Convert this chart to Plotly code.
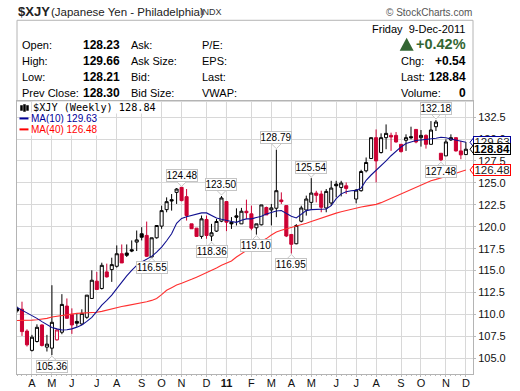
from datetime import date, timedelta
import plotly.graph_objects as go

first_week = date(2010, 3, 15)
weeks = [(first_week + timedelta(days=7 * i)).isoformat() for i in range(91)]

opens = [110.7,110.6,108.1,105.9,106.91,108.8,106.27,106.15,107.1,107.97,110.95,110.0,109.2,108.91,109.67,111.82,113.79,112.96,114.85,115.11,115.49,116.92,117.0,117.38,118.25,119.2,119.01,116.55,118.74,120.07,121.95,123.09,123.92,124.49,123.43,120.33,119.84,118.9,120.83,118.94,119.5,120.64,122.87,120.52,121.24,120.33,121.77,121.47,119.88,120.22,122.19,121.92,122.11,123.05,122.41,119.12,118.06,120.63,121.91,122.78,123.84,123.73,122.14,122.71,124.86,124.48,124.67,None,123.16,124.11,126.38,127.78,130.16,128.46,130.16,130.42,130.42,129.4,129.86,130.27,131.1,130.16,130.42,129.4,131.41,128.38,128.08,129.9,130.16,128.65,128.23]
highs = [110.9,111.45,108.3,107.67,108.87,108.87,107.67,113.33,108.3,112.31,111.82,110.69,110.12,110.58,112.2,115.03,114.85,115.9,115.79,116.47,117.87,117.98,117.98,118.44,119.57,119.95,120.59,118.74,120.14,122.4,123.35,123.73,124.41,124.48,124.3,120.33,119.84,121.28,121.28,120.33,120.9,123.5,122.87,121.1,122.1,122.15,123.09,122.41,120.33,122.49,122.3,122.6,128.79,123.92,122.41,119.12,120.3,122.4,123.55,125.54,124.1,124.11,124.3,125.24,125.24,125.24,125.05,None,124.3,126.5,127.9,130.16,131.1,130.65,131.67,130.73,130.8,129.4,130.54,131.41,131.1,131.03,130.54,132.05,132.18,128.38,129.97,130.54,130.16,129.78,129.66]
lows = [110.2,107.55,106.34,105.77,106.8,106.34,105.77,105.36,107.02,107.74,109.5,107.78,108.6,108.8,109.5,111.82,112.84,112.84,114.2,113.71,115.34,115.87,116.55,117.1,117.23,118.44,116.55,116.55,118.64,119.76,121.65,121.84,122.6,122.9,120.7,119.77,118.9,118.63,118.63,118.36,119.4,120.52,119.5,119.75,120.14,120.33,120.9,119.6,119.1,120.15,121.35,120.15,121.09,122.6,118.82,116.95,118.0,120.5,121.27,122.03,122.78,121.65,121.65,122.4,123.35,123.46,123.73,None,122.67,124.0,126.2,127.78,125.06,128.35,128.84,128.65,129.59,128.46,128.65,129.97,129.52,129.14,128.91,129.4,130.92,127.48,128.08,129.78,128.57,127.7,128.21]
closes = [110.4,108.04,106.53,107.4,108.53,106.46,106.61,109.1,108.23,111.14,109.56,108.8,109.0,110.12,112.2,113.9,112.84,115.6,114.28,115.68,116.92,115.87,116.74,117.23,118.5,118.8,116.63,118.74,120.14,121.84,122.86,122.94,124.3,122.98,121.28,119.77,118.9,120.9,119.0,119.31,120.6,123.28,120.52,120.33,121.09,121.77,121.6,119.84,120.33,122.49,121.35,122.15,124.11,122.87,118.94,118.0,120.14,122.14,123.16,123.84,123.58,122.22,124.03,124.41,124.67,124.98,124.37,None,124.18,126.3,127.33,130.16,127.51,130.16,130.65,130.24,129.67,128.57,130.16,130.16,129.67,130.42,129.4,131.03,131.94,127.63,129.67,130.16,128.65,128.2,128.84]
red_weeks = [1,2,5,8,10,11,16,18,21,26,33,34,35,36,38,42,46,47,50,53,54,55,60,61,66,72,75,76,77,80,82,85,88,89]

ma10 = [110.8,110.5,110.2,109.93,109.55,109.18,108.85,108.5,108.35,108.23,108.25,108.35,108.55,108.8,109.2,109.67,110.35,111.07,111.6,112.2,112.95,113.71,114.4,115.03,115.6,115.98,116.3,116.62,117.1,117.68,118.4,119.2,120.4,120.95,121.15,121.3,121.5,121.58,121.58,121.3,121.0,120.85,120.7,120.6,120.5,120.75,120.9,120.9,121.05,121.2,121.45,121.6,121.8,121.85,121.55,121.2,121.0,121.4,121.84,121.95,122.0,122.03,122.03,122.4,123.2,123.75,124.0,124.1,124.15,124.4,125.3,125.9,126.4,126.95,127.5,128.1,128.65,129.1,129.5,129.7,129.83,129.9,129.95,130.02,130.1,130.2,130.15,130.0,129.85,129.72,129.63]
ma40 = [109.3,109.3,109.33,109.35,109.4,109.44,109.55,109.7,109.8,109.88,109.95,110.05,110.12,110.15,110.18,110.2,110.24,110.35,110.5,110.65,110.8,110.9,111.0,111.1,111.18,111.3,111.45,111.6,111.82,112.25,112.75,113.05,113.35,113.55,113.75,114.0,114.25,114.5,114.8,115.05,115.3,115.6,115.85,116.1,116.55,116.95,117.3,117.65,118.0,118.3,118.65,119.05,119.4,119.6,119.75,119.9,120.05,120.25,120.4,120.6,120.8,121.0,121.2,121.4,121.55,121.7,121.85,122.0,122.15,122.25,122.35,122.45,122.55,122.75,123.0,123.3,123.55,123.8,124.05,124.3,124.55,124.75,125.0,125.25,125.4,125.55,125.7,125.9,126.1,126.3,126.48]

month_weeks = [3,7,11,16,20,25,29,33,38,42,47,51,55,59,64,68,72,77,81,86,90]
month_labels = ["A","M","J","J","A","S","O","N","D","<b>11</b>","F","M","A","M","J","J","A","S","O","N","D"]
price_ticks = [105 + 2.5 * i for i in range(12)]

# (week, price, text, pixel offset of the box centre above the point)
peaks = [(7,105.36,"105.36",-11),(27,116.55,"116.55",-11),(33,124.48,"124.48",12),
         (39,118.36,"118.36",-10),(41,123.50,"123.50",12),(48,119.10,"119.10",-11),
         (52,128.79,"128.79",12),(55,116.95,"116.95",-11),(59,125.54,"125.54",11),
         (84,132.18,"132.18",11),(85,127.48,"127.48",-10)]
# (price, text, colour, bold)
price_tags = [(129.63,"129.63","#000099",False),(126.48,"126.48","#FF0000",False),(128.84,"128.84","#000000",True)]

ARIAL = "Liberation Sans"
GRID = "#D8D8D8"
FRAME = "#B4B4B4"
RED = "#CC0033"
GREEN = "#336633"
L, R, T, B = 16.5, 473.5, 100.5, 374.5
W, H = 520, 391

def px(x): return (x - L) / (R - L)
def py(y): return (B - y) / (B - T)

def sub(indices, values):
    return [values[i] for i in indices]

fig = go.Figure()
ok = [i for i in range(91) if opens[i] is not None]
for colour, idx in (("#000000", [i for i in ok if i not in red_weeks]), (RED, [i for i in ok if i in red_weeks])):
    fig.add_trace(go.Candlestick(
        x=sub(idx, weeks), open=sub(idx, opens), high=sub(idx, highs), low=sub(idx, lows), close=sub(idx, closes),
        whiskerwidth=0, showlegend=False,
        increasing=dict(line=dict(color=colour, width=1), fillcolor="#FFFFFF"),
        decreasing=dict(line=dict(color=colour, width=1), fillcolor=colour)))
fig.add_trace(go.Scatter(x=weeks, y=ma40, mode="lines", line=dict(color="#FF3030", width=1.1), showlegend=False))
fig.add_trace(go.Scatter(x=weeks, y=ma10, mode="lines", line=dict(color="#101090", width=1.1), showlegend=False))

shapes = []
ann = []

def text(x, y, s, size=11, color="#000000", anchor="left", family=ARIAL, bg=None):
    ann.append(dict(x=px(x), y=py(y), xref="paper", yref="paper", text=s, showarrow=False,
                    xanchor=anchor, yanchor="middle", font=dict(family=family, size=size, color=color),
                    borderpad=0, bgcolor=bg))

# Header frame
shapes.append(dict(type="rect", xref="paper", yref="paper", x0=px(L), x1=px(R), y0=py(T), y1=py(19.5),
                   line=dict(color=FRAME, width=1), fillcolor="#FFFFFF", layer="below"))
text(16, 11, "<b>$XJY</b>", 13, "#222222")
text(50, 11.5, "(Japanese Yen - Philadelphia)", 11.5, "#222222")
text(199, 11.5, "INDX", 9, "#333333")
text(473, 11.5, "© StockCharts.com", 10, "#555555", "right")

rows = [44, 60, 76, 92]
for y, lab, val, lab2, lab3 in zip(rows, ["Open:", "High:", "Low:", "Prev Close:"],
                                   ["128.23", "129.66", "128.21", "128.30"],
                                   ["Ask:", "Ask Size:", "Bid:", "Bid Size:"],
                                   ["P/E:", "EPS:", "Last:", "VWAP:"]):
    text(20.5, y, lab, 11)
    text(82, y, f"<b>{val}</b>", 12)
    text(129.5, y, lab2, 11)
    text(200.5, y, lab3, 11)

text(466.5, 28.5, "Friday  9-Dec-2011", 11, "#000000", "right")
text(467, 43.5, "<b>+0.42%</b>", 14.5, GREEN, "right")
shapes.append(dict(type="path", xref="paper", yref="paper",
                   path=f"M {px(400)},{py(50)} L {px(414)},{py(50)} L {px(407)},{py(37)} Z",
                   fillcolor=GREEN, line=dict(color=GREEN, width=0)))
for y, lab, val in zip(rows[1:], ["Chg:", "Last:", "Volume:"], ["+0.54", "128.84", "0"]):
    text(400, y, lab, 11)
    text(467, y, f"<b>{val}</b>", 12, "#000000", "right")

# Peak labels with their small grey pointers
for wk, price, s, off in peaks:
    sign = 1 if off > 0 else -1
    shapes.append(dict(type="path", xref="x", yref="y", xsizemode="pixel", ysizemode="pixel",
                       xanchor=weeks[wk], yanchor=price,
                       path=f"M -5,{sign*6} L 0,{sign*1} L 5,{sign*6}",
                       line=dict(color="#C8C8C8", width=1), fillcolor="#FFFFFF", layer="above"))
    ann.append(dict(x=weeks[wk], y=price, xref="x", yref="y", text=s, showarrow=False, yshift=off,
                    font=dict(family=ARIAL, size=10, color="#000000"), bgcolor="#FFFFFF",
                    bordercolor="#C4C4C4", borderwidth=1, borderpad=0, width=30, height=11))

# Price tags at the right
for price, s, col, bold in price_tags:
    shapes.append(dict(type="path", xref="paper", yref="y", ysizemode="pixel", yanchor=price,
                       path=f"M {px(R+1)},5 L {px(R-3)},0 L {px(R+1)},-5",
                       line=dict(color=col, width=1), fillcolor="#FFFFFF", layer="above"))
    ann.append(dict(x=px(R + 0.5), y=price, xref="paper", yref="y", text=f"<b>{s}</b>" if bold else s,
                    showarrow=False, xanchor="left",
                    font=dict(family=ARIAL, size=11.5, color="#000000" if bold else "#222222"),
                    bgcolor="#FFFFFF", bordercolor=col, borderwidth=1, borderpad=0, width=36, height=10))

# Year gridline
shapes.append(dict(type="line", xref="x", yref="paper", x0=weeks[42], x1=weeks[42], y0=py(B), y1=py(T),
                   line=dict(color="#B0B0B0", width=1), layer="below"))

# Legend block
MONO = "DejaVu Sans Mono"
text(32, 107.5, "$XJY (Weekly) 128.84", 10.2, "#000000", "left", MONO, "#FFFFFF")
text(29.5, 118.5, "MA(10) 129.63", 10, "#000099", "left", ARIAL, "#FFFFFF")
text(29.5, 129.5, "MA(40) 126.48", 10, "#FF0000", "left", ARIAL, "#FFFFFF")
shapes.append(dict(type="line", xref="paper", yref="paper", x0=px(19), x1=px(28), y0=py(118), y1=py(118), line=dict(color="#000099", width=2)))
shapes.append(dict(type="line", xref="paper", yref="paper", x0=px(19), x1=px(28), y0=py(129), y1=py(129), line=dict(color="#FF0000", width=2)))
for x0, y0, y1 in ((20, 105, 110), (23, 104, 111), (26, 105, 110)):
    shapes.append(dict(type="rect", xref="paper", yref="paper", x0=px(x0), x1=px(x0 + 2), y0=py(y1), y1=py(y0),
                       line=dict(color="#000000", width=0.5), fillcolor="#000000"))

def x_at(pixel):
    # date at a given pixel column, five pixels per week with the first week at pixel 16
    days = (pixel - 16.2) / 5 * 7
    return (first_week + timedelta(days=days)).isoformat()

fig.update_layout(
    width=W, height=H, paper_bgcolor="#FFFFFF", plot_bgcolor="#FFFFFF",
    margin=dict(l=L, r=W - R, t=T, b=H - B, pad=0, autoexpand=False), showlegend=False, boxgap=0.12,
    shapes=shapes, annotations=ann, font=dict(family=ARIAL, color="#000000"),
    xaxis=dict(type="date", range=[x_at(L), x_at(R)], rangeslider=dict(visible=False),
               tickmode="array", tickvals=sub(month_weeks, weeks), ticktext=month_labels,
               tickfont=dict(family=ARIAL, size=11, color="#111111"), tickangle=0, ticklabelstandoff=-3,
               ticks="outside", ticklen=2, tickcolor="#BBBBBB",
               showgrid=True, gridcolor=GRID, gridwidth=1,
               showline=True, linecolor=FRAME, linewidth=1, mirror=True, zeroline=False,
               minor=dict(tickmode="array", tickvals=weeks, ticks="outside", ticklen=1, tickcolor="#BBBBBB", showgrid=False)),
    yaxis=dict(side="right", range=[105 - (B - 358.7) / 8.8, 132.5 + (116.7 - T) / 8.8],
               tickmode="array", tickvals=price_ticks, ticktext=[f"{v:.1f}" for v in price_ticks],
               tickfont=dict(family=ARIAL, size=11, color="#111111"),
               ticks="outside", ticklen=2, tickcolor="#BBBBBB",
               showgrid=True, gridcolor=GRID, gridwidth=1,
               showline=True, linecolor=FRAME, linewidth=1, mirror=True, zeroline=False),
)
fig.write_html("out.html", config={"displayModeBar": False}, post_script="document.body.style.margin='0';")
